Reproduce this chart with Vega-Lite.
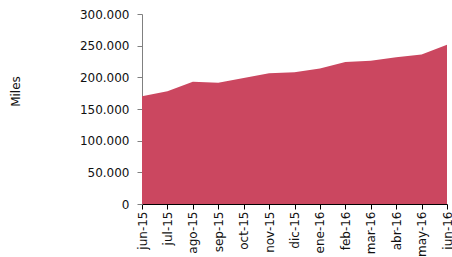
{
  "$schema": "https://vega.github.io/schema/vega-lite/v6.json",
  "width": 305,
  "height": 190,
  "autosize": {"type": "none"},
  "padding": {"left": 142, "top": 14, "right": 5, "bottom": 53},
  "background": "white",
  "config": {
    "view": {"stroke": null},
    "locale": {"number": {"decimal": ",", "thousands": ".", "grouping": [3], "currency": ["", " €"]}},
    "axis": {"labelFont": "DejaVu Sans", "titleFont": "DejaVu Sans", "labelColor": "#111", "titleColor": "#111", "grid": false}
  },
  "data": {
    "values": [
      {"mes": "jun-15", "valor": 170100},
      {"mes": "jul-15", "valor": 178100},
      {"mes": "ago-15", "valor": 193000},
      {"mes": "sep-15", "valor": 191400},
      {"mes": "oct-15", "valor": 198900},
      {"mes": "nov-15", "valor": 206400},
      {"mes": "dic-15", "valor": 208000},
      {"mes": "ene-16", "valor": 213800},
      {"mes": "feb-16", "valor": 224400},
      {"mes": "mar-16", "valor": 226000},
      {"mes": "abr-16", "valor": 231900},
      {"mes": "may-16", "valor": 236200},
      {"mes": "jun-16", "valor": 251600}
    ]
  },
  "mark": {"type": "area", "color": "#CB4760", "opacity": 1},
  "encoding": {
    "x": {
      "field": "mes", "type": "ordinal", "sort": null,
      "scale": {"type": "point", "padding": 0},
      "axis": {"title": null, "labelAngle": -90, "labelAlign": "right", "labelBaseline": "middle", "labelFontSize": 12, "labelPadding": 2, "tickSize": 5, "domainColor": "#000", "tickColor": "#000"}
    },
    "y": {
      "field": "valor", "type": "quantitative",
      "scale": {"domain": [0, 300000], "nice": false},
      "axis": {"title": "Miles", "values": [0, 50000, 100000, 150000, 200000, 250000, 300000], "format": ",d", "labelFontSize": 12, "labelPadding": 8, "tickSize": 5, "domainColor": "#808080", "tickColor": "#808080", "titleFontWeight": "normal", "titleFontSize": 12, "titleX": -127, "titleY": 77, "titleAngle": -90, "titleAlign": "center", "titleBaseline": "middle"}
    }
  }
}
